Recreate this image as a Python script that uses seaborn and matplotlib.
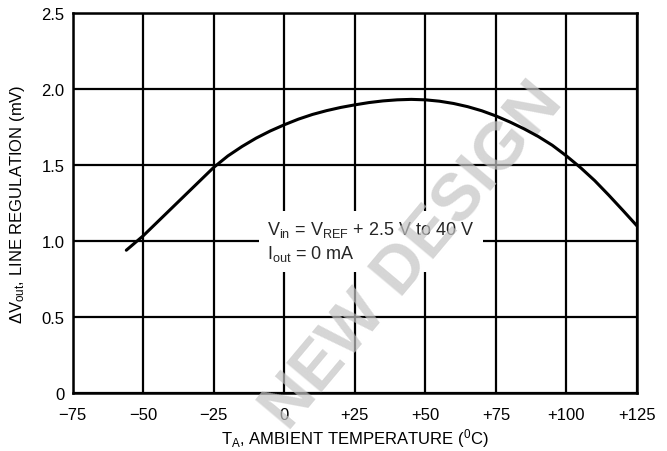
import matplotlib
matplotlib.use("Agg")
import matplotlib.pyplot as plt
import pandas as pd
import seaborn as sns

# values
temp_c = [-56, -50, -45, -40, -35, -30, -25, -20, -15, -10, -5, 0, 5, 10, 15, 20,
          25, 30, 35, 40, 45, 50, 55, 60, 65, 70, 75, 80, 85, 90, 95, 100, 105,
          110, 115, 120, 125]
line_reg_mv = [0.94, 1.035, 1.125, 1.215, 1.305, 1.395, 1.485, 1.56, 1.622, 1.677, 1.724,
               1.765, 1.802, 1.833, 1.858, 1.879, 1.896, 1.911, 1.922, 1.929, 1.932,
               1.929, 1.92, 1.905, 1.884, 1.857, 1.823, 1.783, 1.738, 1.688, 1.63,
               1.56, 1.483, 1.398, 1.302, 1.202, 1.10]

x_ticks = [-75, -50, -25, 0, 25, 50, 75, 100, 125]
x_tick_labels = ["\u221275", "\u221250", "\u221225", "0", "+25", "+50", "+75", "+100", "+125"]
y_ticks = [0, 0.5, 1.0, 1.5, 2.0, 2.5]
y_tick_labels = ["0", "0.5", "1.0", "1.5", "2.0", "2.5"]

sns.set_theme(style="white")
plt.rcParams["font.family"] = ["Liberation Sans", "DejaVu Sans"]
plt.rcParams["mathtext.default"] = "regular"

df = pd.DataFrame({"temp": temp_c, "reg": line_reg_mv})

fig = plt.figure(figsize=(6.67, 4.52), dpi=100)
ax = fig.add_axes([0.109, 0.128, 0.846, 0.841])

sns.lineplot(data=df, x="temp", y="reg", ax=ax, color="black", lw=2.2, zorder=5)

ax.set_xlim(-75, 125)
ax.set_ylim(0, 2.5)
ax.set_xticks(x_ticks, x_tick_labels)
ax.set_yticks(y_ticks, y_tick_labels)
ax.grid(True, color="black", lw=1.6)
ax.set_axisbelow(True)
for s in ax.spines.values():
    s.set_color("black")
    s.set_linewidth(1.8)
ax.tick_params(length=0, labelsize=12, colors="black")
ax.tick_params(axis="x", pad=10)
ax.tick_params(axis="y", pad=6)

ax.set_xlabel("T$_A$, AMBIENT TEMPERATURE ($^0$C)", fontsize=12, color="black", labelpad=3)
ax.set_ylabel("\u0394V$_{out}$, LINE REGULATION (mV)", fontsize=12, color="black", labelpad=10)

ax.text(-6, 1.0, "V$_{in}$ = V$_{REF}$ + 2.5 V to 40 V\nI$_{out}$ = 0 mA", fontsize=13,
        ha="left", va="center", linespacing=1.3, zorder=3,
        bbox=dict(facecolor="white", edgecolor="none", pad=6))

# faint watermark
ax.text(46, 0.9, "NEW DESIGN", fontsize=48, fontweight="bold", rotation=50,
        color="#c4c4c4", alpha=0.7, ha="center", va="center", zorder=4)

fig.savefig("out.png", dpi=100)
